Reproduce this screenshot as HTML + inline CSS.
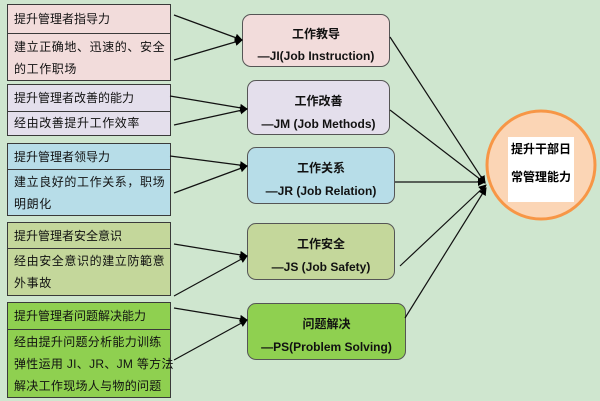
<!DOCTYPE html>
<html><head><meta charset="utf-8"><style>
body{margin:0;width:600px;height:401px;background:#cfe6cf;position:relative;overflow:hidden;font-family:"Liberation Sans","Noto Sans CJK SC",sans-serif;}
.lb{position:absolute;left:7px;width:164px;border:1.5px solid #3a3a3a;box-sizing:border-box;}
.lb div{padding:0 3px 0 6px;font-size:12px;color:#111;box-sizing:border-box;}
.lb .t{border-bottom:1.5px solid #3a3a3a;}
.lb .b{letter-spacing:0.6px;}
.mb{position:absolute;border:1.5px solid #555;border-radius:9px;box-sizing:border-box;text-align:center;font-weight:bold;font-size:12px;color:#111;}
.mb p{margin:0;}
</style></head><body>
<div class="lb" style="top:4px;height:77px;background:#f2dcdb">
 <div class="t" style="height:29px;line-height:29px">提升管理者指导力</div>
 <div class="b" style="line-height:22px;padding-top:2px">建立正确地、迅速的、安全的工作职场</div>
</div>
<div class="lb" style="top:84px;height:52px;background:#e4dfec">
 <div class="t" style="height:27px;line-height:27px">提升管理者改善的能力</div>
 <div class="b" style="line-height:23px">经由改善提升工作效率</div>
</div>
<div class="lb" style="top:143px;height:73px;background:#b7dde8">
 <div class="t" style="height:26px;line-height:26px">提升管理者领导力</div>
 <div class="b" style="line-height:22px;padding-top:1px">建立良好的工作关系，职场明朗化</div>
</div>
<div class="lb" style="top:222px;height:74px;background:#c4d79b">
 <div class="t" style="height:26px;line-height:26px">提升管理者安全意识</div>
 <div class="b" style="line-height:22px;padding-top:1px">经由安全意识的建立防範意外事故</div>
</div>
<div class="lb" style="top:302px;height:96px;background:#8fd050">
 <div class="t" style="height:27px;line-height:27px">提升管理者问题解决能力</div>
 <div style="line-height:22px;padding-top:1px;white-space:nowrap;letter-spacing:0.3px">经由提升问题分析能力训练<br>弹性运用 JI、JR、JM 等方法<br>解决工作现场人与物的问题</div>
</div>

<div class="mb" style="left:242px;top:14px;width:148px;height:53px;background:#f2dcdb"><p style="margin-top:10px">工作教导</p><p style="margin-top:7px">—JI(Job Instruction)</p></div>
<div class="mb" style="left:247px;top:80px;width:143px;height:55px;background:#e4dfec"><p style="margin-top:11px">工作改善</p><p style="margin-top:8px">—JM (Job Methods)</p></div>
<div class="mb" style="left:247px;top:147px;width:148px;height:57px;background:#b7dde8"><p style="margin-top:11px">工作关系</p><p style="margin-top:8px">—JR (Job Relation)</p></div>
<div class="mb" style="left:247px;top:223px;width:148px;height:57px;background:#c4d79b"><p style="margin-top:11px">工作安全</p><p style="margin-top:8px">—JS (Job Safety)</p></div>
<div class="mb" style="left:247px;top:303px;width:159px;height:57px;background:#8fd050"><p style="margin-top:11px">问题解决</p><p style="margin-top:8px">—PS(Problem Solving)</p></div>

<svg width="600" height="401" style="position:absolute;left:0;top:0">
<defs><marker id="a" markerWidth="8" markerHeight="8" refX="7" refY="4" orient="auto" markerUnits="userSpaceOnUse"><path d="M0,0 L8,4 L0,8 z" fill="#000"/></marker></defs>
<g stroke="#111" stroke-width="1.2" fill="none" marker-end="url(#a)">
<line x1="174" y1="15" x2="242" y2="40"/><line x1="174" y1="60" x2="242" y2="40"/>
<line x1="170" y1="96" x2="247" y2="109"/><line x1="174" y1="125" x2="247" y2="109"/>
<line x1="170" y1="156" x2="247" y2="166"/><line x1="174" y1="193" x2="247" y2="166"/>
<line x1="174" y1="244" x2="247" y2="256"/><line x1="174" y1="296" x2="247" y2="256"/>
<line x1="174" y1="308" x2="247" y2="320"/><line x1="174" y1="360" x2="247" y2="320"/>
<line x1="390" y1="37" x2="485" y2="183"/><line x1="390" y1="110" x2="485" y2="183"/>
<line x1="395" y1="182" x2="485" y2="182"/><line x1="400" y1="266" x2="486" y2="185"/>
<line x1="405" y1="318" x2="486" y2="188"/>
</g>
<circle cx="541" cy="165" r="54" fill="#fbd5b5" stroke="#f79646" stroke-width="3"/>
<rect x="508" y="137" width="66" height="65" fill="#fff"/>
<text x="511" y="153" font-size="12" font-weight="bold" font-family="Liberation Sans,Noto Sans CJK SC,sans-serif">提升干部日</text>
<text x="511" y="181" font-size="12" font-weight="bold" font-family="Liberation Sans,Noto Sans CJK SC,sans-serif">常管理能力</text>
</svg>
</body></html>
